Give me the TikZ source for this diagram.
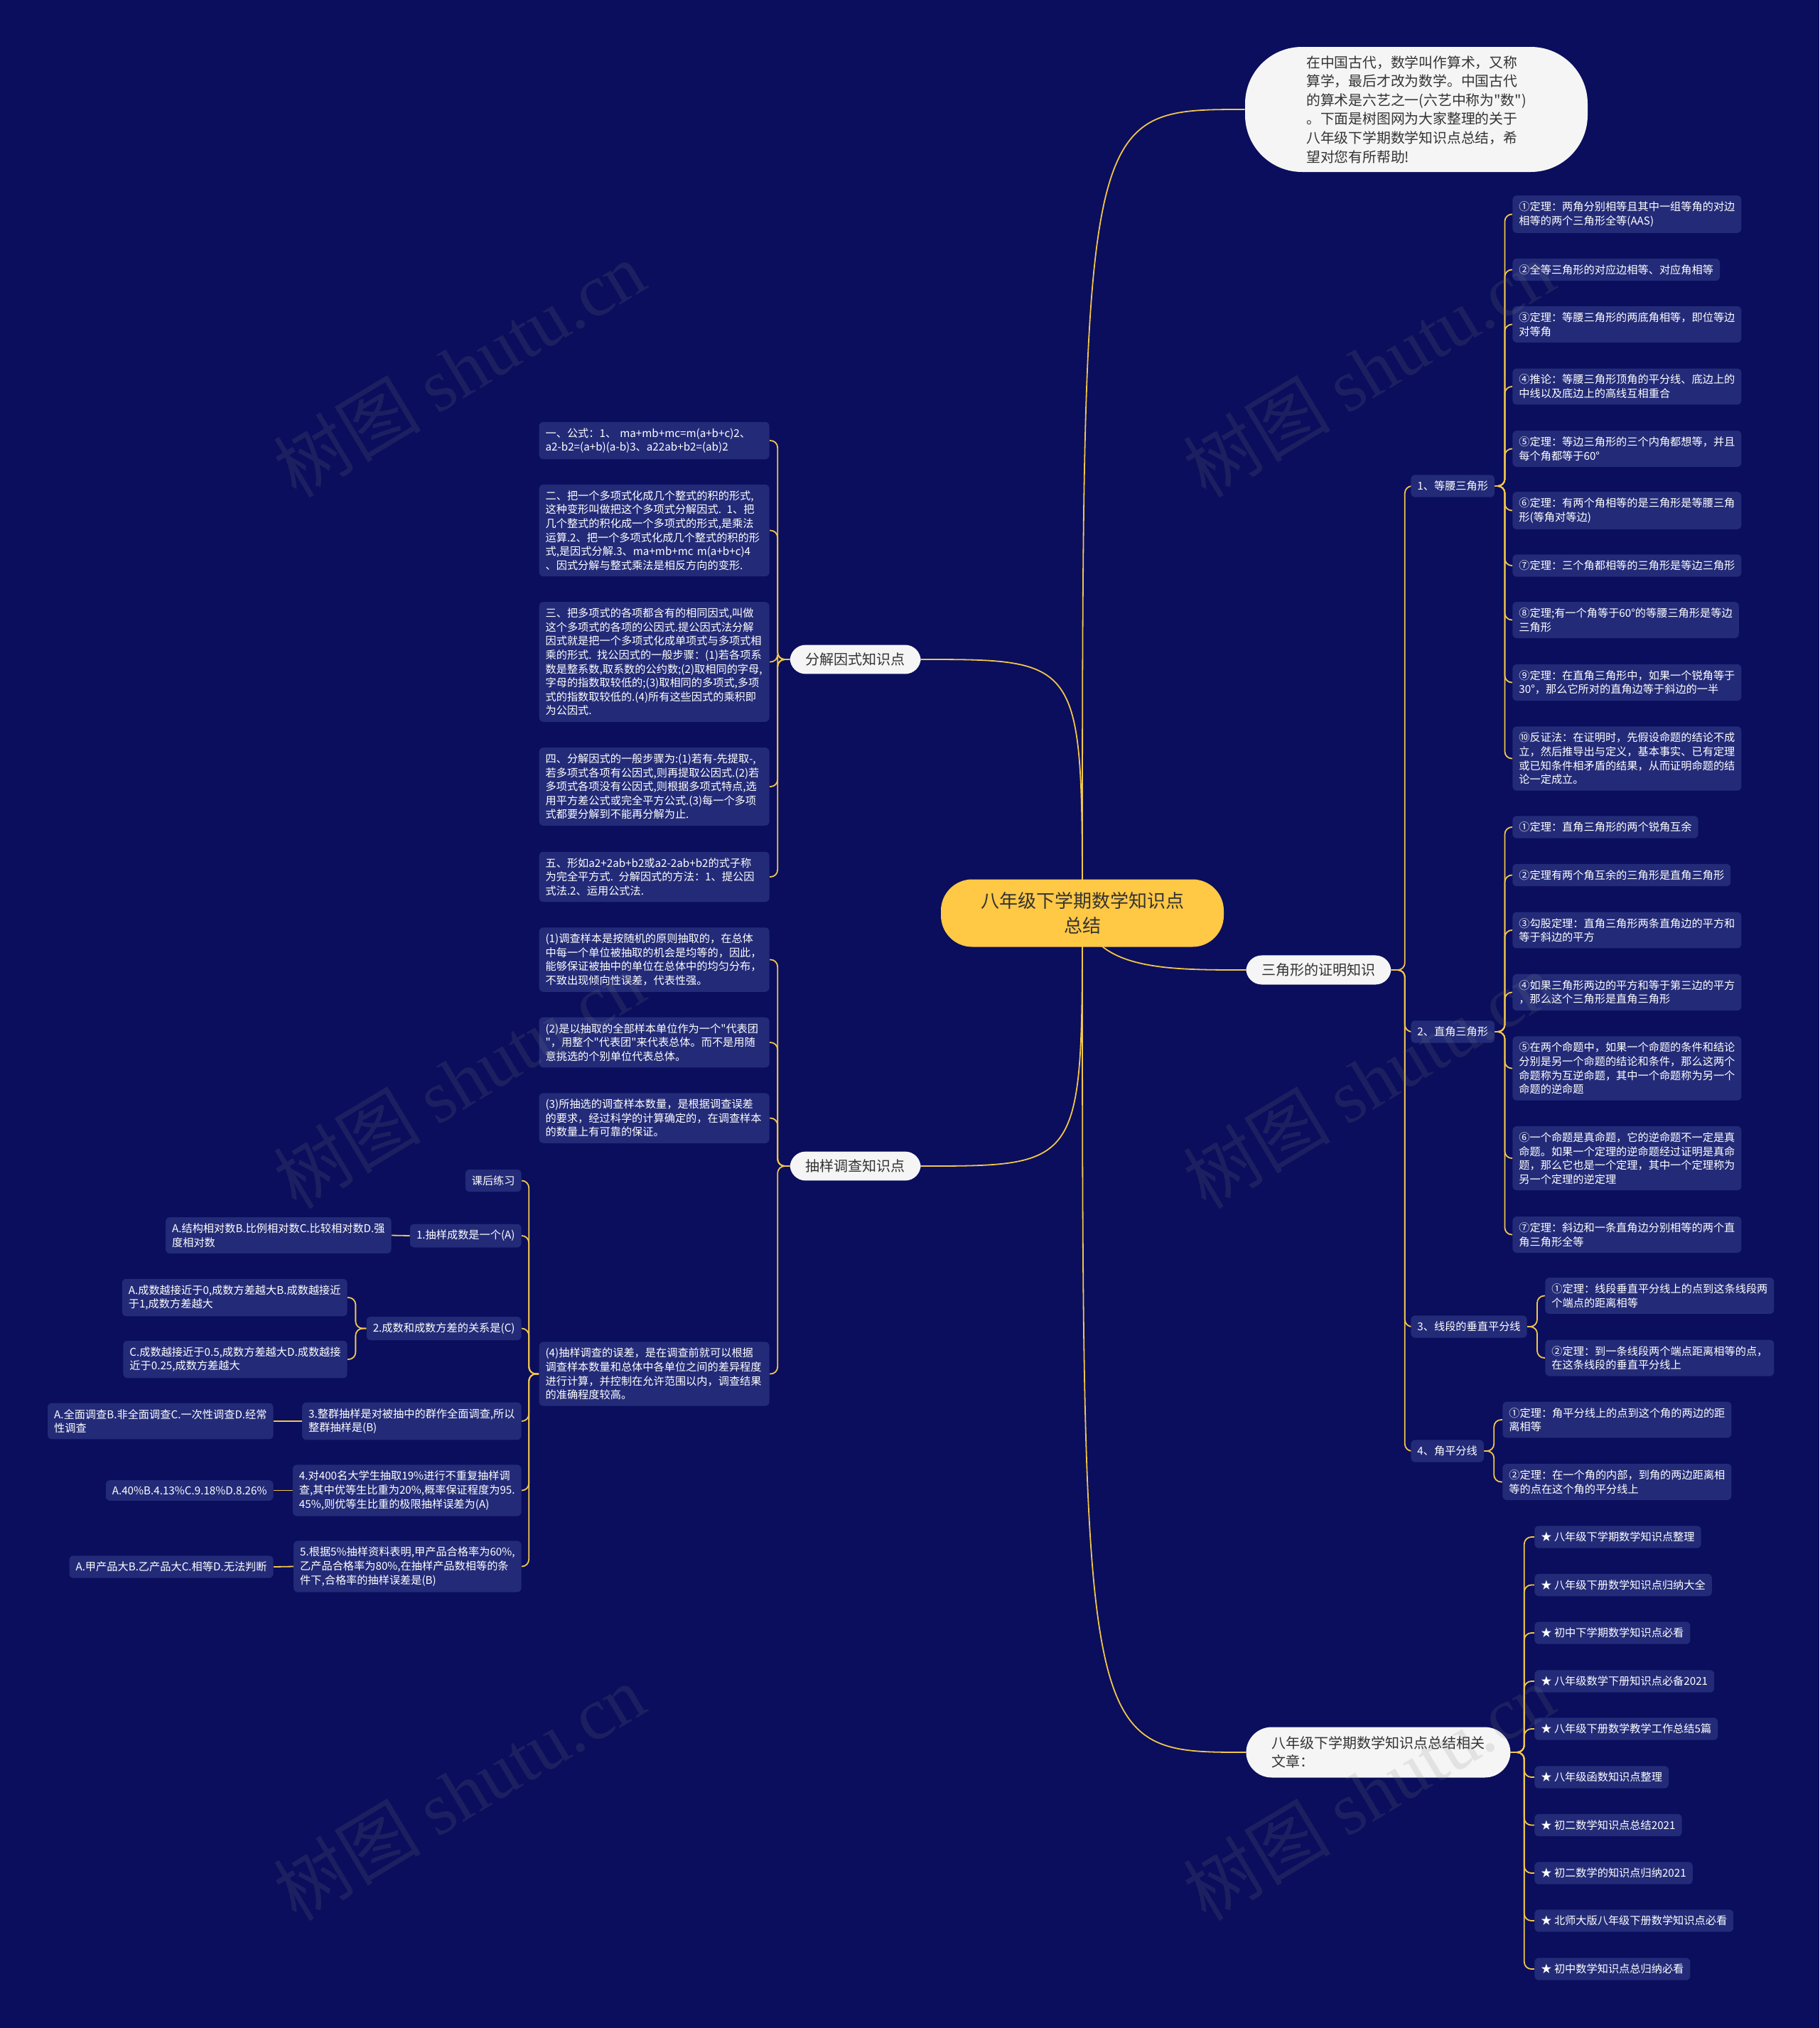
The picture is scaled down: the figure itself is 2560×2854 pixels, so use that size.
\documentclass[tikz,border=0pt]{standalone}
\usepackage{fontspec}
\setmainfont{Noto Sans CJK SC}[Ligatures=TeXOff]
\newfontfamily\wmfont{Liberation Serif}
\definecolor{bgc}{HTML}{0A0E5C}
\definecolor{boxc}{HTML}{232B78}
\definecolor{linec}{HTML}{F2C64B}
\definecolor{rootc}{HTML}{FFC845}
\definecolor{pillc}{HTML}{F5F5F5}
\definecolor{txtdark}{HTML}{333333}
\pgfdeclarelayer{back}
\pgfdeclarelayer{edges}
\pgfsetlayers{back,edges,main}
\begin{document}
\begin{tikzpicture}[x=0.5pt,y=-0.5pt,
  leaf/.style={fill=boxc, rounded corners=3pt, text=white, font=\fontsize{7.6}{9.8}\selectfont, align=left, inner xsep=4.5pt, inner ysep=4.3pt},
  wide/.style={text width=153pt},
  lone/.style={fill=pillc, text=txtdark, rounded corners=11pt, font=\fontsize{10}{13}\selectfont, align=left, inner xsep=11pt, inner ysep=5.6pt},
  rootbox/.style={fill=rootc, text=txtdark, rounded corners=22pt, font=\fontsize{13}{17.3}\selectfont, align=center, minimum width=199pt, minimum height=47.5pt},
  introbox/.style={fill=pillc, text=txtdark, rounded corners=40pt, font=\fontsize{9.9}{13.3}\selectfont, align=left, minimum width=241pt, minimum height=88pt},
  link/.style={draw=linec, line width=0.9pt, rounded corners=5pt},
  curve/.style={draw=linec, line width=0.9pt},
  wm/.style={rotate=31, text=gray, opacity=0.16, font=\fontsize{52}{52}\selectfont}
]
\useasboundingbox (0,0) rectangle (2560,2854);
\begin{pgfonlayer}{back}
\fill[bgc] (0,0) rectangle (2560,2854);
\end{pgfonlayer}

% ---- root and first level
\node[rootbox] (root) at (1523,1285) {八年级下学期数学知识点\\总结};
\node[introbox] (intro) at (1993,154) {在中国古代，数学叫作算术，又称\\算学，最后才改为数学。中国古代\\的算术是六艺之一(六艺中称为"数")\\。下面是树图网为大家整理的关于\\八年级下学期数学知识点总结，希\\望对您有所帮助!};
\node[lone, anchor=east] (fj) at (1296,928) {分解因式知识点};
\node[lone, anchor=east] (cy) at (1296,1641) {抽样调查知识点};
\node[lone, anchor=west] (tri) at (1753,1365) {三角形的证明知识};
\node[lone, anchor=west, rounded corners=18pt, inner xsep=18pt, inner ysep=6.6pt] (rel) at (1753,2466) {八年级下学期数学知识点总结相关\\文章：};

% ---- triangle branch
\node[leaf, anchor=west] (dy) at (1985,684) {1、等腰三角形};
\node[leaf, anchor=west] (zj) at (1985,1452) {2、直角三角形};
\node[leaf, anchor=west] (xd) at (1985,1867) {3、线段的垂直平分线};
\node[leaf, anchor=west] (jp) at (1985,2042) {4、角平分线};

\node[leaf, anchor=west] (dy1) at (2128,301.5) {①定理：两角分别相等且其中一组等角的对边\\相等的两个三角形全等(AAS)};
\node[leaf, anchor=west] (dy2) at (2128,379.5) {②全等三角形的对应边相等、对应角相等};
\node[leaf, anchor=west] (dy3) at (2128,456.5) {③定理：等腰三角形的两底角相等，即位等边\\对等角};
\node[leaf, anchor=west] (dy4) at (2128,544) {④推论：等腰三角形顶角的平分线、底边上的\\中线以及底边上的高线互相重合};
\node[leaf, anchor=west] (dy5) at (2128,631.5) {⑤定理：等边三角形的三个内角都想等，并且\\每个角都等于60°};
\node[leaf, anchor=west] (dy6) at (2128,718.5) {⑥定理：有两个角相等的是三角形是等腰三角\\形(等角对等边)};
\node[leaf, anchor=west] (dy7) at (2128,796) {⑦定理：三个角都相等的三角形是等边三角形};
\node[leaf, anchor=west] (dy8) at (2128,872.5) {⑧定理;有一个角等于60°的等腰三角形是等边\\三角形};
\node[leaf, anchor=west] (dy9) at (2128,960.5) {⑨定理：在直角三角形中，如果一个锐角等于\\30°，那么它所对的直角边等于斜边的一半};
\node[leaf, anchor=west] (dy10) at (2128,1067.5) {⑩反证法：在证明时，先假设命题的结论不成\\立，然后推导出与定义，基本事实、已有定理\\或已知条件相矛盾的结果，从而证明命题的结\\论一定成立。};

\node[leaf, anchor=west] (zj1) at (2128,1164) {①定理：直角三角形的两个锐角互余};
\node[leaf, anchor=west] (zj2) at (2128,1231.5) {②定理有两个角互余的三角形是直角三角形};
\node[leaf, anchor=west] (zj3) at (2128,1309) {③勾股定理：直角三角形两条直角边的平方和\\等于斜边的平方};
\node[leaf, anchor=west] (zj4) at (2128,1396.5) {④如果三角形两边的平方和等于第三边的平方\\，那么这个三角形是直角三角形};
\node[leaf, anchor=west] (zj5) at (2128,1503.5) {⑤在两个命题中，如果一个命题的条件和结论\\分别是另一个命题的结论和条件，那么这两个\\命题称为互逆命题，其中一个命题称为另一个\\命题的逆命题};
\node[leaf, anchor=west] (zj6) at (2128,1630) {⑥一个命题是真命题，它的逆命题不一定是真\\命题。如果一个定理的逆命题经过证明是真命\\题，那么它也是一个定理，其中一个定理称为\\另一个定理的逆定理};
\node[leaf, anchor=west] (zj7) at (2128,1737.5) {⑦定理：斜边和一条直角边分别相等的两个直\\角三角形全等};

\node[leaf, anchor=west] (xd1) at (2174,1823.5) {①定理：线段垂直平分线上的点到这条线段两\\个端点的距离相等};
\node[leaf, anchor=west] (xd2) at (2174,1911) {②定理：到一条线段两个端点距离相等的点，\\在这条线段的垂直平分线上};

\node[leaf, anchor=west] (jp1) at (2114,1998) {①定理：角平分线上的点到这个角的两边的距\\离相等};
\node[leaf, anchor=west] (jp2) at (2114,2085.5) {②定理：在一个角的内部，到角的两边距离相\\等的点在这个角的平分线上};

% ---- related articles
\node[leaf, anchor=west] (r1) at (2159,2163) {★ 八年级下学期数学知识点整理};
\node[leaf, anchor=west] (r2) at (2159,2230.5) {★ 八年级下册数学知识点归纳大全};
\node[leaf, anchor=west] (r3) at (2159,2298) {★ 初中下学期数学知识点必看};
\node[leaf, anchor=west] (r4) at (2159,2366) {★ 八年级数学下册知识点必备2021};
\node[leaf, anchor=west] (r5) at (2159,2433) {★ 八年级下册数学教学工作总结5篇};
\node[leaf, anchor=west] (r6) at (2159,2501) {★ 八年级函数知识点整理};
\node[leaf, anchor=west] (r7) at (2159,2568.5) {★ 初二数学知识点总结2021};
\node[leaf, anchor=west] (r8) at (2159,2636) {★ 初二数学的知识点归纳2021};
\node[leaf, anchor=west] (r9) at (2159,2703) {★ 北师大版八年级下册数学知识点必看};
\node[leaf, anchor=west] (r10) at (2159,2771) {★ 初中数学知识点总归纳必看};

% ---- factorisation branch
\node[leaf, wide, anchor=east] (fj1) at (1083,620) {一、公式：1、 ma+mb+mc=m(a+b+c)2、\\a2-b2=(a+b)(a-b)3、a22ab+b2=(ab)2};
\node[leaf, wide, anchor=east] (fj2) at (1083,746.5) {二、把一个多项式化成几个整式的积的形式,\\这种变形叫做把这个多项式分解因式. 1、把\\几个整式的积化成一个多项式的形式,是乘法\\运算.2、把一个多项式化成几个整式的积的形\\式,是因式分解.3、ma+mb+mc m(a+b+c)4\\、因式分解与整式乘法是相反方向的变形.};
\node[leaf, wide, anchor=east] (fj3) at (1083,931.5) {三、把多项式的各项都含有的相同因式,叫做\\这个多项式的各项的公因式.提公因式法分解\\因式就是把一个多项式化成单项式与多项式相\\乘的形式. 找公因式的一般步骤：(1)若各项系\\数是整系数,取系数的公约数;(2)取相同的字母,\\字母的指数取较低的;(3)取相同的多项式,多项\\式的指数取较低的.(4)所有这些因式的乘积即\\为公因式.};
\node[leaf, wide, anchor=east] (fj4) at (1083,1107) {四、分解因式的一般步骤为:(1)若有-先提取-,\\若多项式各项有公因式,则再提取公因式.(2)若\\多项式各项没有公因式,则根据多项式特点,选\\用平方差公式或完全平方公式.(3)每一个多项\\式都要分解到不能再分解为止.};
\node[leaf, wide, anchor=east] (fj5) at (1083,1234) {五、形如a2+2ab+b2或a2-2ab+b2的式子称\\为完全平方式. 分解因式的方法：1、提公因\\式法.2、运用公式法.};

% ---- sampling branch
\node[leaf, wide, anchor=east] (cy1) at (1083,1350.5) {(1)调查样本是按随机的原则抽取的，在总体\\中每一个单位被抽取的机会是均等的，因此，\\能够保证被抽中的单位在总体中的均匀分布，\\不致出现倾向性误差，代表性强。};
\node[leaf, wide, anchor=east] (cy2) at (1083,1467) {(2)是以抽取的全部样本单位作为一个"代表团\\"，用整个"代表团"来代表总体。而不是用随\\意挑选的个别单位代表总体。};
\node[leaf, wide, anchor=east] (cy3) at (1083,1573.5) {(3)所抽选的调查样本数量，是根据调查误差\\的要求，经过科学的计算确定的，在调查样本\\的数量上有可靠的保证。};
\node[leaf, wide, anchor=east] (cy4) at (1083,1933.5) {(4)抽样调查的误差，是在调查前就可以根据\\调查样本数量和总体中各单位之间的差异程度\\进行计算，并控制在允许范围以内，调查结果\\的准确程度较高。};

\node[leaf, anchor=east] (kh) at (734,1661.5) {课后练习};
\node[leaf, anchor=east] (q1) at (734,1739) {1.抽样成数是一个(A)};
\node[leaf, anchor=east] (q2) at (734,1869.5) {2.成数和成数方差的关系是(C)};
\node[leaf, anchor=east] (q3) at (734,2000) {3.整群抽样是对被抽中的群作全面调查,所以\\整群抽样是(B)};
\node[leaf, anchor=east] (q4) at (734,2097.5) {4.对400名大学生抽取19\%进行不重复抽样调\\查,其中优等生比重为20\%,概率保证程度为95.\\45\%,则优等生比重的极限抽样误差为(A)};
\node[leaf, anchor=east] (q5) at (734,2204.5) {5.根据5\%抽样资料表明,甲产品合格率为60\%,\\乙产品合格率为80\%,在抽样产品数相等的条\\件下,合格率的抽样误差是(B)};

\node[leaf, anchor=east] (a1) at (551,1738.5) {A.结构相对数B.比例相对数C.比较相对数D.强\\度相对数};
\node[leaf, anchor=east] (a2a) at (489,1826) {A.成数越接近于0,成数方差越大B.成数越接近\\于1,成数方差越大};
\node[leaf, anchor=east] (a2c) at (489,1913) {C.成数越接近于0.5,成数方差越大D.成数越接\\近于0.25,成数方差越大};
\node[leaf, anchor=east] (a3) at (385,2000) {A.全面调查B.非全面调查C.一次性调查D.经常\\性调查};
\node[leaf, anchor=east] (a4) at (385,2097.5) {A.40\%B.4.13\%C.9.18\%D.8.26\%};
\node[leaf, anchor=east] (a5) at (385,2205) {A.甲产品大B.乙产品大C.相等D.无法判断};

% ---- connectors
\begin{pgfonlayer}{edges}
\draw[curve] (root.center) .. controls (root.center |- intro.west) .. (intro.west);
\draw[curve] (root.center) .. controls (root.center |- fj.east) .. (fj.east);
\draw[curve] (root.center) .. controls (root.center |- cy.east) .. (cy.east);
\draw[curve] (root.center) .. controls +(17,80) and +(-113,0) .. (tri.west);
\draw[curve] (root.center) .. controls (root.center |- rel.west) .. (rel.west);

\foreach \c in {dy,zj,xd,jp} \draw[link] (tri.east) -- ++(19,0) |- (\c.west);
\foreach \c in {dy1,dy2,dy3,dy4,dy5,dy6,dy7,dy8,dy9,dy10} \draw[link] (dy.east) -- ++(14,0) |- (\c.west);
\foreach \c in {zj1,zj2,zj3,zj4,zj5,zj6,zj7} \draw[link] (zj.east) -- ++(14,0) |- (\c.west);
\foreach \c in {xd1,xd2} \draw[link] (xd.east) -- ++(14,0) |- (\c.west);
\foreach \c in {jp1,jp2} \draw[link] (jp.east) -- ++(14,0) |- (\c.west);
\foreach \c in {r1,r2,r3,r4,r5,r6,r7,r8,r9,r10} \draw[link] (rel.east) -- ++(19,0) |- (\c.west);

\foreach \c in {fj1,fj2,fj3,fj4,fj5} \draw[link] (fj.west) -- ++(-17,0) |- (\c.east);
\foreach \c in {cy1,cy2,cy3,cy4} \draw[link] (cy.west) -- ++(-17,0) |- (\c.east);
\foreach \c in {kh,q1,q2,q3,q4,q5} \draw[link] (cy4.west) -- ++(-14,0) |- (\c.east);
\draw[link] (q1.west) -- (a1.east);
\foreach \c in {a2a,a2c} \draw[link] (q2.west) -- ++(-15,0) |- (\c.east);
\draw[link] (q3.west) -- (a3.east);
\draw[link] (q4.west) -- (a4.east);
\draw[link] (q5.west) -- (a5.east);
\end{pgfonlayer}

% ---- watermarks
\node[wm] (wm1) at (646,519) {树图 {\wmfont shutu.cn}};
\node[wm] (wm2) at (1926,519) {树图 {\wmfont shutu.cn}};
\node[wm] (wm3) at (646,1520) {树图 {\wmfont shutu.cn}};
\node[wm] (wm4) at (1926,1520) {树图 {\wmfont shutu.cn}};
\node[wm] (wm5) at (646,2522) {树图 {\wmfont shutu.cn}};
\node[wm] (wm6) at (1926,2522) {树图 {\wmfont shutu.cn}};
\end{tikzpicture}
\end{document}
